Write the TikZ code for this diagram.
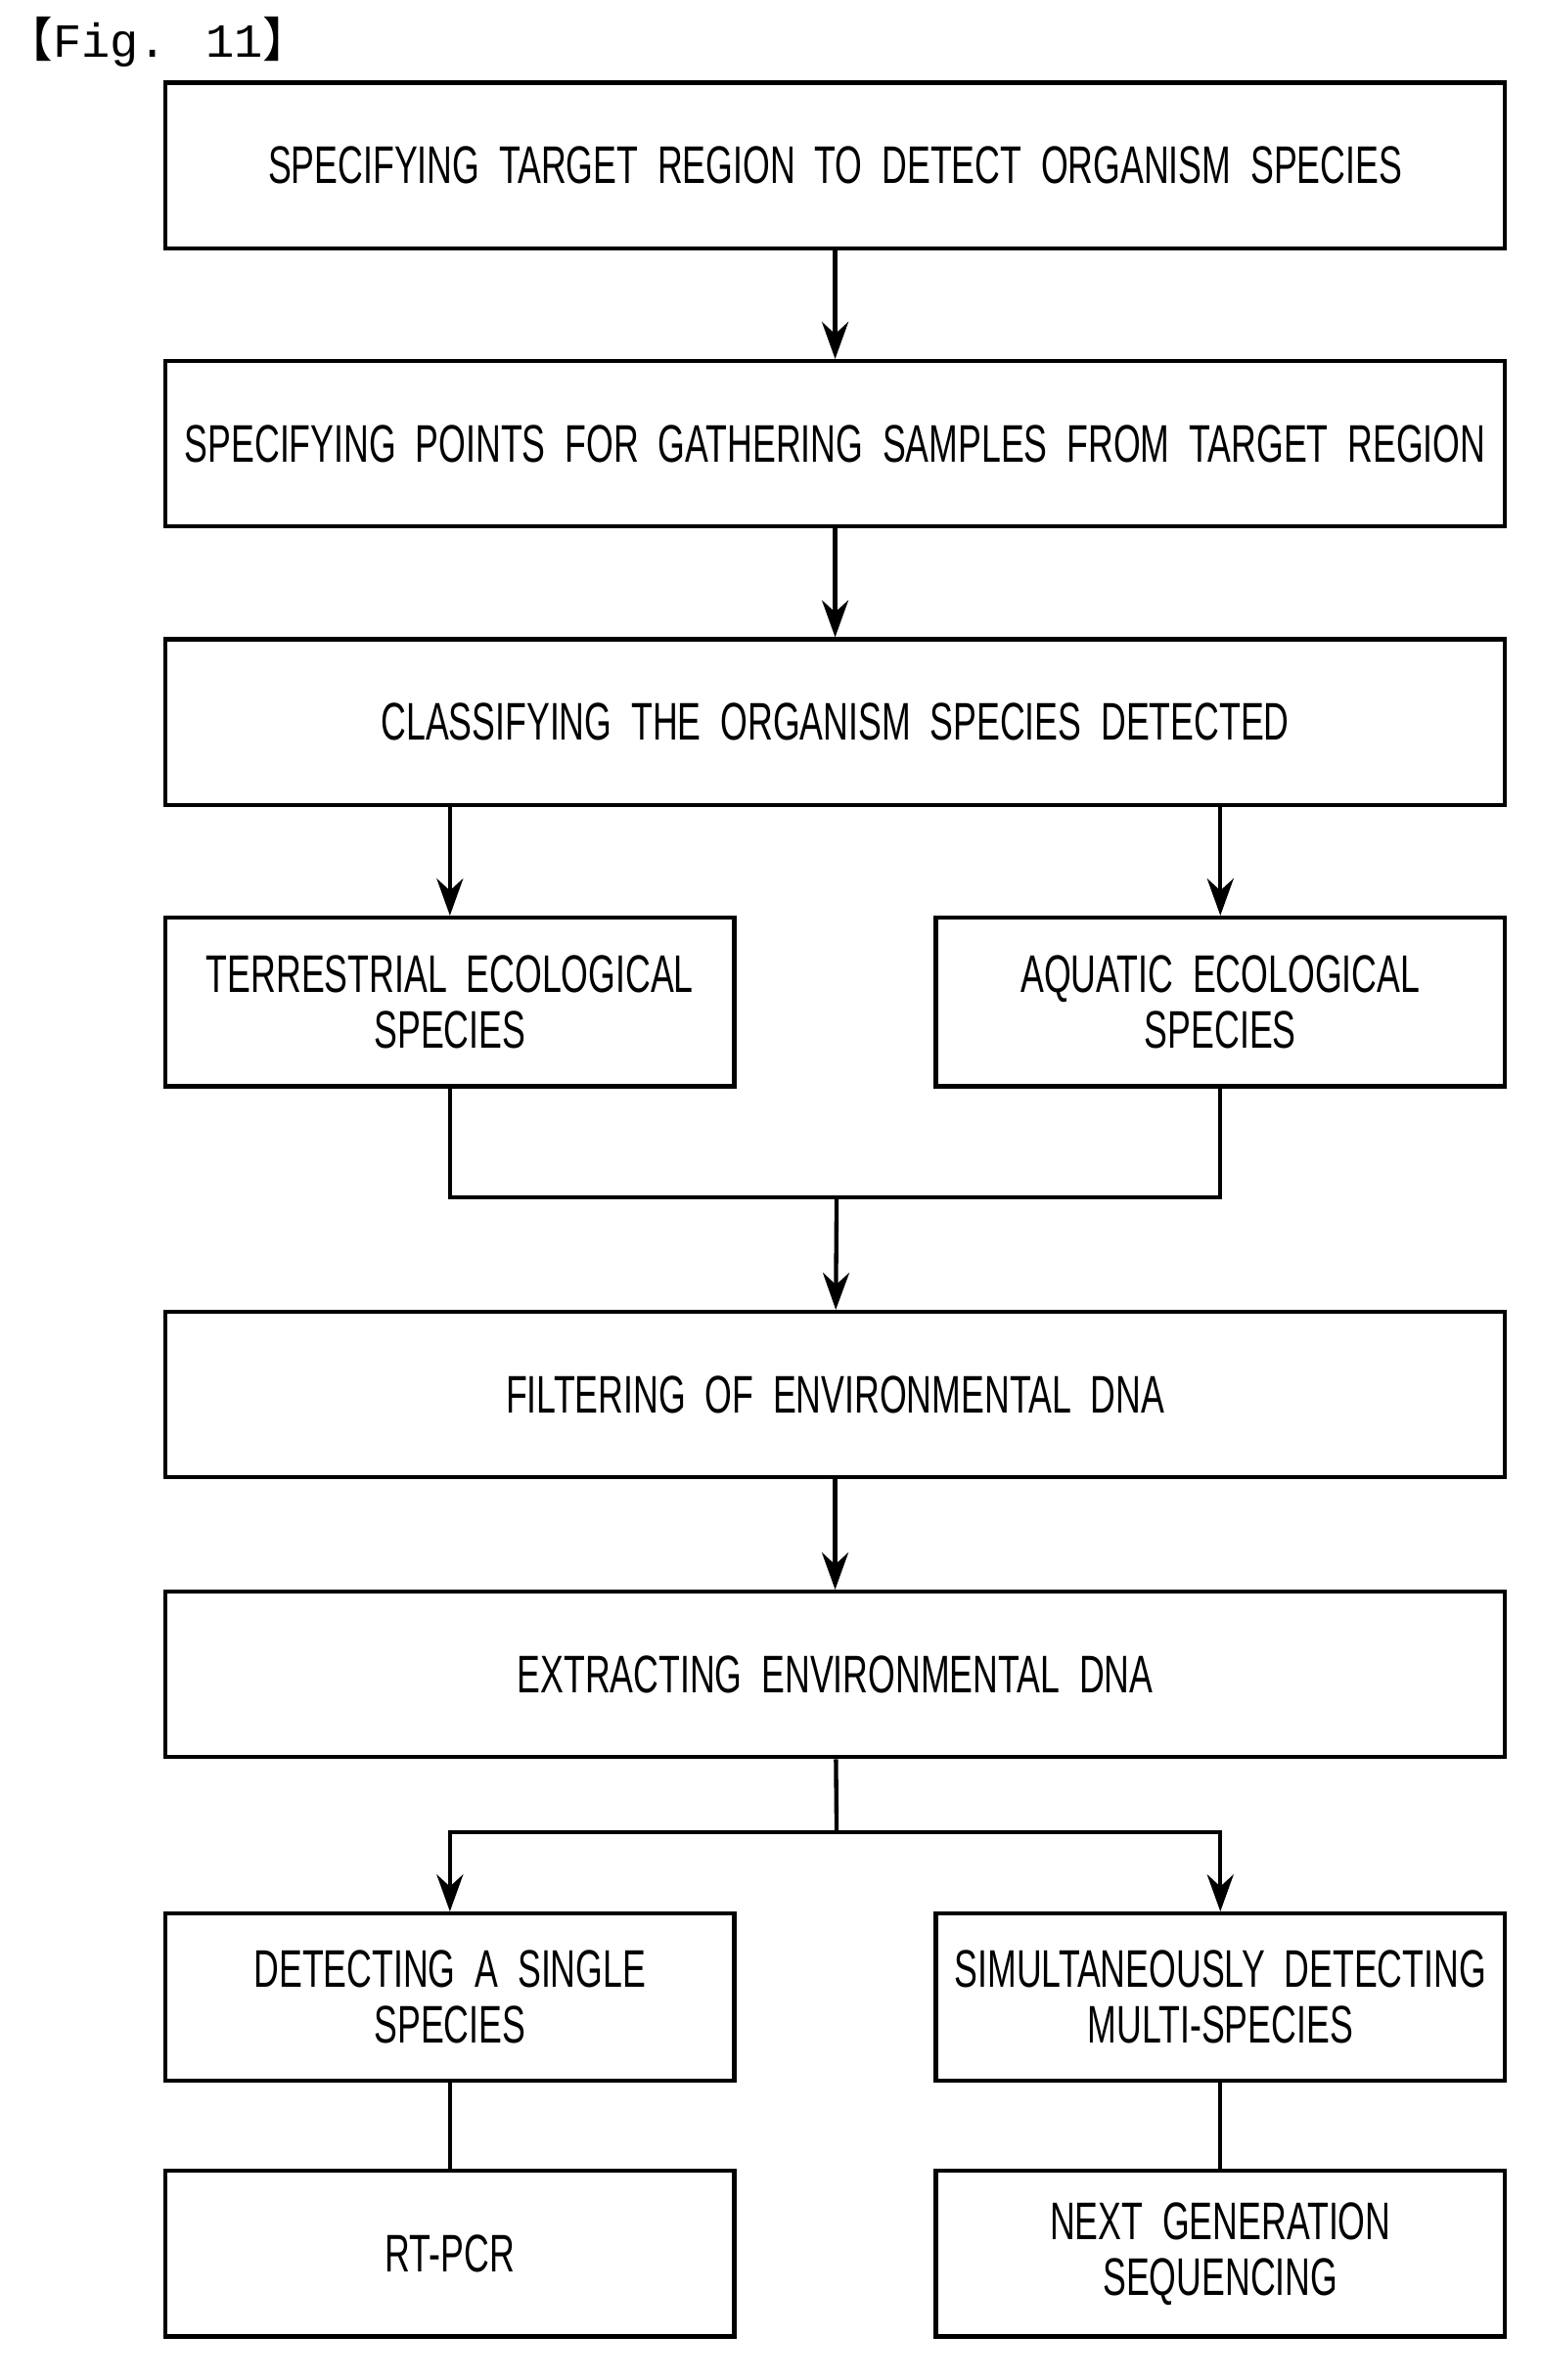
\documentclass[tikz,border=0pt]{standalone}
\usepackage{fontspec}
\setmainfont{Liberation Sans}[FakeStretch=0.66,WordSpace=2]
\newfontfamily\cjk{Noto Sans CJK JP}
\newfontfamily\monof{Liberation Mono}
\usetikzlibrary{arrows.meta}
\begin{document}
\begin{tikzpicture}[x=0.01cm,y=-0.01cm,
  box/.style={draw,line width=0.8pt,inner sep=0pt,align=center,font=\fontsize{10}{10.5}\selectfont},
  arr/.style={line width=0.8pt,-{Stealth[length=7pt,width=5pt]}},
  ln/.style={line width=0.8pt}]
\useasboundingbox (0,0) rectangle (1024,1582);
\node[anchor=west,inner sep=0pt,font=\fontsize{9}{11}\selectfont] (fig) at (3,28) {{\cjk 【}{\monof Fig. 11}{\cjk 】}};
\newcommand{\bx}[6]{\node[box,minimum width={(#4-#2)*0.01cm},minimum height={(#5-#3)*0.01cm}] (#1) at ({(#2+#4)/2},{(#3+#5)/2}) {#6};}
\bx{b1}{110}{55}{1000}{165}{SPECIFYING TARGET REGION TO DETECT ORGANISM SPECIES}
\bx{b2}{110}{240}{1000}{350}{SPECIFYING POINTS FOR GATHERING SAMPLES FROM TARGET REGION}
\bx{b3}{110}{425}{1000}{535}{CLASSIFYING THE ORGANISM SPECIES DETECTED}
\bx{b4}{110}{610}{488}{722}{TERRESTRIAL ECOLOGICAL\\SPECIES}
\bx{b5}{622}{610}{1000}{722}{AQUATIC ECOLOGICAL\\SPECIES}
\bx{b6}{110}{872}{1000}{982}{FILTERING OF ENVIRONMENTAL DNA}
\bx{b7}{110}{1058}{1000}{1168}{EXTRACTING ENVIRONMENTAL DNA}
\bx{b8}{110}{1272}{488}{1383}{DETECTING A SINGLE\\SPECIES}
\bx{b9}{622}{1272}{1000}{1383}{SIMULTANEOUSLY DETECTING\\MULTI-SPECIES}
\bx{b10}{110}{1443}{488}{1553}{RT-PCR}
\bx{b11}{622}{1443}{1000}{1553}{NEXT GENERATION\\SEQUENCING}
\coordinate (m1) at (556,796);
\coordinate (m2) at (556,1218);
\draw[arr] (b1) -- (b2);
\draw[arr] (b2) -- (b3);
\draw[arr] (b3.south -| b4) -- (b4);
\draw[arr] (b3.south -| b5) -- (b5);
\draw[ln] (b4) |- (m1) -| (b5);
\draw[arr] (m1) -- (b6);
\draw[arr] (b6) -- (b7);
\draw[ln] (b7) -- (m2);
\draw[arr] (m2) -| (b8);
\draw[arr] (m2) -| (b9);
\draw[ln] (b8) -- (b10);
\draw[ln] (b9) -- (b11);
\end{tikzpicture}
\end{document}
